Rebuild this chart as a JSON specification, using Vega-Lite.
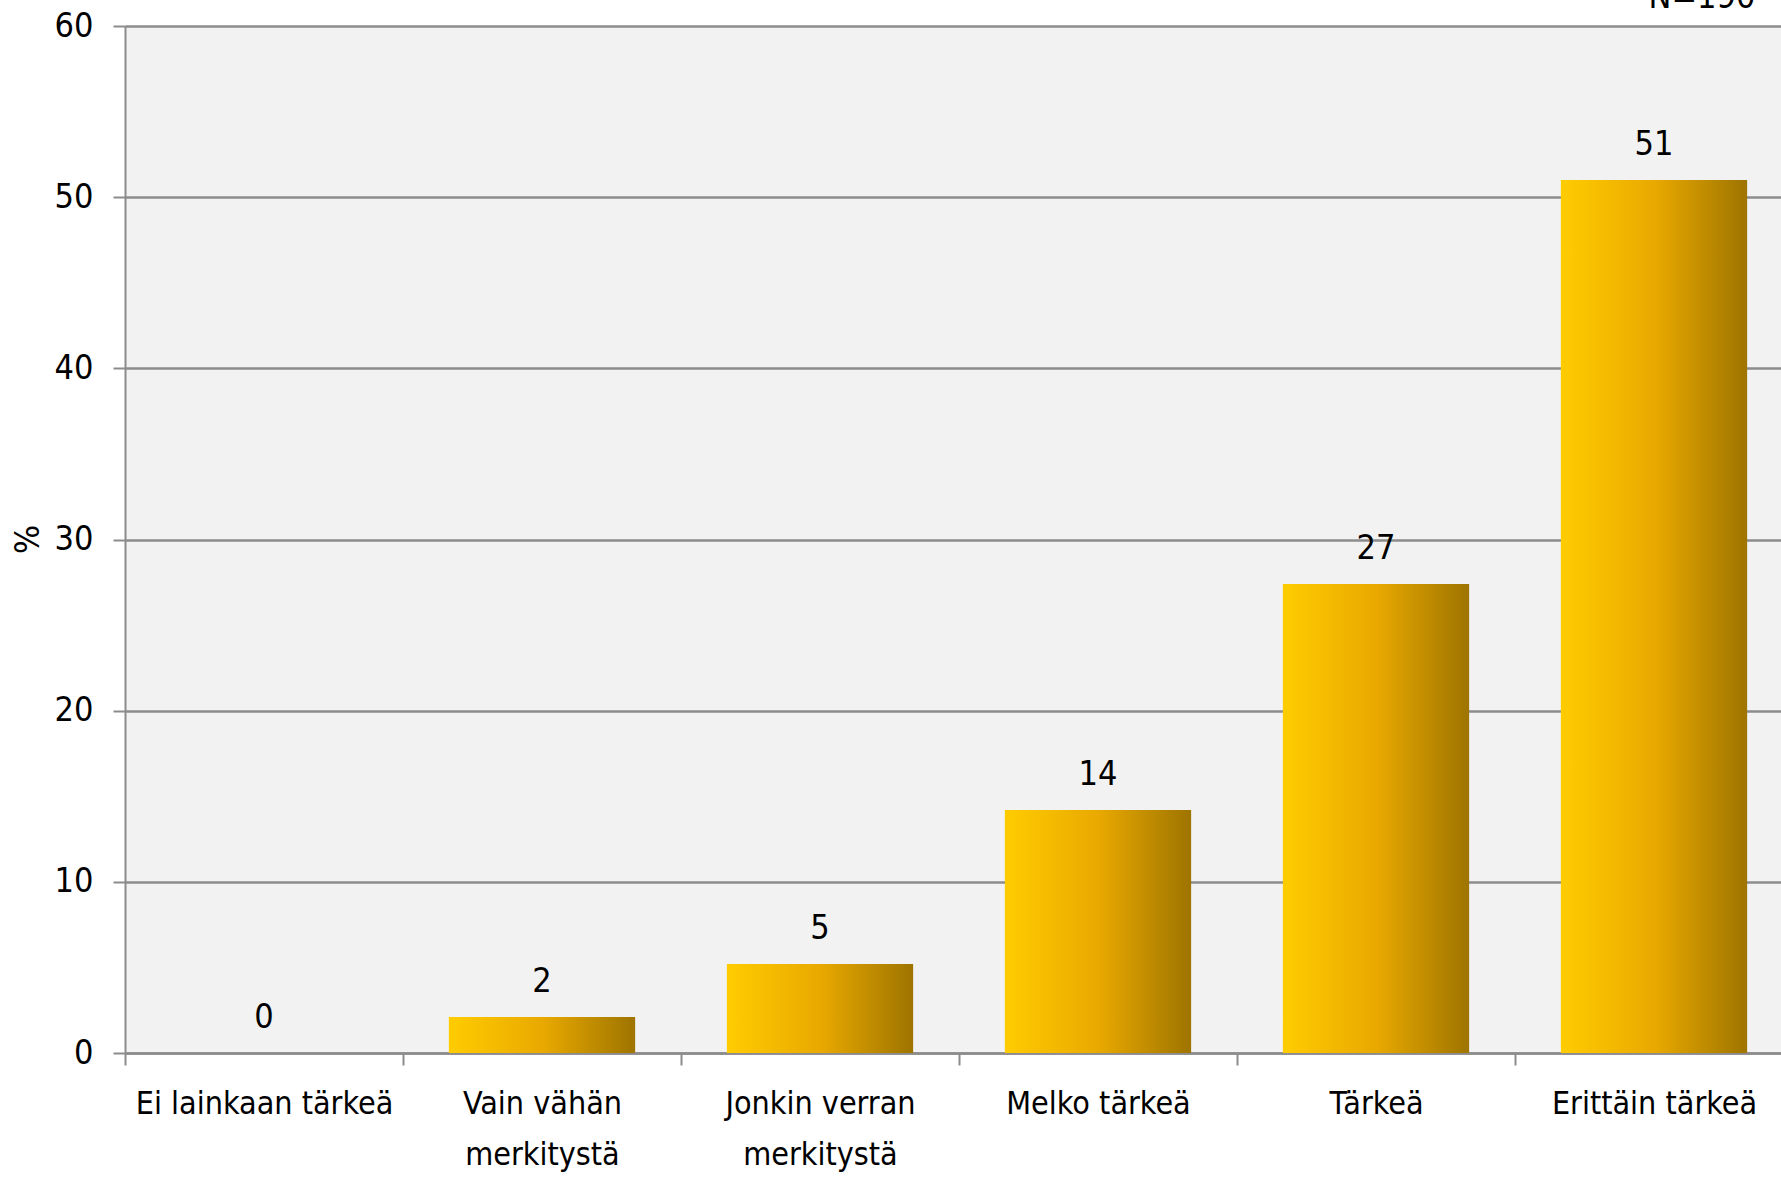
{
  "$schema": "https://vega.github.io/schema/vega-lite/v6.json",
  "autosize": {"type": "none"},
  "padding": {"left": 125, "top": 26, "right": 0, "bottom": 124},
  "width": 1668,
  "height": 1027,
  "background": "white",
  "config": {
    "font": "DejaVu Sans Condensed, Liberation Sans Narrow, sans-serif",
    "view": {"fill": "#f2f2f2", "stroke": null}
  },
  "data": {
    "values": [
      {"kategoria": "Ei lainkaan tärkeä", "osuus": 0},
      {"kategoria": "Vain vähän merkitystä", "osuus": 2.1},
      {"kategoria": "Jonkin verran merkitystä", "osuus": 5.2},
      {"kategoria": "Melko tärkeä", "osuus": 14.2},
      {"kategoria": "Tärkeä", "osuus": 27.4},
      {"kategoria": "Erittäin tärkeä", "osuus": 51.0}
    ]
  },
  "encoding": {
    "x": {
      "field": "kategoria",
      "type": "nominal",
      "sort": null,
      "scale": {"paddingInner": 0, "paddingOuter": 0},
      "axis": {
        "title": null,
        "labelAngle": 0,
        "labelFontSize": 32,
        "labelColor": "#000000",
        "labelPadding": 23,
        "labelLineHeight": 51,
        "labelBaseline": "top",
        "labelLimit": 0,
        "labelExpr": "datum.value == 'Vain vähän merkitystä' ? ['Vain vähän', 'merkitystä'] : datum.value == 'Jonkin verran merkitystä' ? ['Jonkin verran', 'merkitystä'] : datum.value",
        "tickBand": "extent",
        "tickSize": 12,
        "tickColor": "#8c8c8c",
        "tickWidth": 2,
        "domainColor": "#8c8c8c",
        "domainWidth": 2.5,
        "grid": false
      }
    },
    "y": {
      "field": "osuus",
      "type": "quantitative",
      "scale": {"domain": [0, 60], "nice": false},
      "axis": {
        "title": "%",
        "titleFontSize": 34,
        "titleFontWeight": "normal",
        "titleColor": "#000000",
        "titleAngle": -90,
        "titleX": -97,
        "titleY": 513,
        "titleBaseline": "middle",
        "titleAlign": "center",
        "values": [0, 10, 20, 30, 40, 50, 60],
        "labelFontSize": 34,
        "labelColor": "#000000",
        "labelPadding": 20,
        "tickSize": 12,
        "tickColor": "#8c8c8c",
        "tickWidth": 2,
        "domainColor": "#8c8c8c",
        "domainWidth": 2,
        "grid": true,
        "gridColor": "#8c8c8c",
        "gridWidth": 2.5
      }
    }
  },
  "layer": [
    {
      "mark": {
        "type": "bar",
        "width": {"band": 0.67},
        "color": {
          "gradient": "linear",
          "x1": 0, "y1": 0, "x2": 1, "y2": 0,
          "stops": [
            {"offset": 0, "color": "#ffcc00"},
            {"offset": 0.5, "color": "#e9a900"},
            {"offset": 1, "color": "#9e7400"}
          ]
        }
      }
    },
    {
      "mark": {"type": "text", "baseline": "bottom", "dy": -18, "fontSize": 34, "color": "#000000"},
      "encoding": {
        "text": {"field": "osuus", "type": "quantitative", "format": ".0f"}
      }
    },
    {
      "data": {"values": [{"teksti": "N=190", "kategoria": "Erittäin tärkeä", "osuus": 60}]},
      "mark": {"type": "text", "baseline": "bottom", "dy": -11, "dx": 48, "fontSize": 34, "color": "#000000"},
      "encoding": {
        "text": {"field": "teksti"}
      }
    }
  ]
}
